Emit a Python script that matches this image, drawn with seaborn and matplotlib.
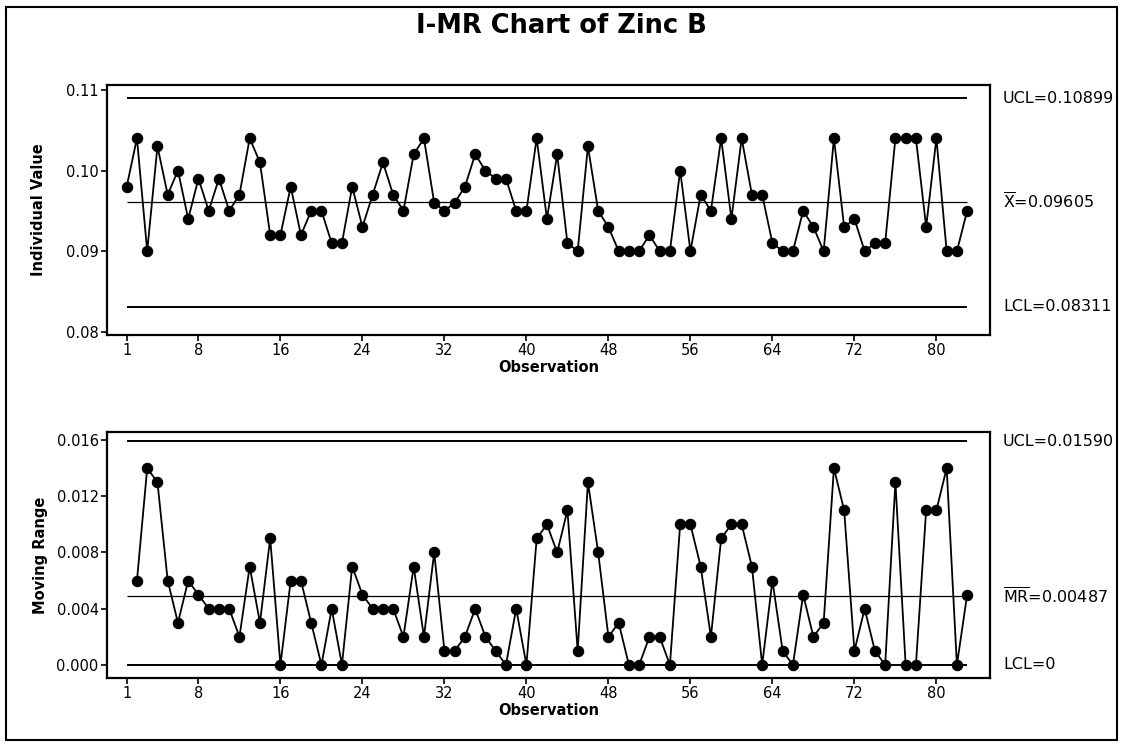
import matplotlib
matplotlib.use("Agg")
import matplotlib.pyplot as plt
import seaborn as sns
import numpy as np
import pandas as pd
from matplotlib.patches import Rectangle

# ---------------- data ----------------
observations = list(range(1, 84))
individual_values = [
    0.098, 0.104, 0.090, 0.103, 0.097, 0.100, 0.094, 0.099, 0.095, 0.099,
    0.095, 0.097, 0.104, 0.101, 0.092, 0.092, 0.098, 0.092, 0.095, 0.095,
    0.091, 0.091, 0.098, 0.093, 0.097, 0.101, 0.097, 0.095, 0.102, 0.104,
    0.096, 0.095, 0.096, 0.098, 0.102, 0.100, 0.099, 0.099, 0.095, 0.095,
    0.104, 0.094, 0.102, 0.091, 0.090, 0.103, 0.095, 0.093, 0.090, 0.090,
    0.090, 0.092, 0.090, 0.090, 0.100, 0.090, 0.097, 0.095, 0.104, 0.094,
    0.104, 0.097, 0.097, 0.091, 0.090, 0.090, 0.095, 0.093, 0.090, 0.104,
    0.093, 0.094, 0.090, 0.091, 0.091, 0.104, 0.104, 0.104, 0.093, 0.104,
    0.090, 0.090, 0.095,
]
mr_observations = list(range(2, 84))
moving_ranges = [
    0.006, 0.014, 0.013, 0.006, 0.003, 0.006, 0.005, 0.004, 0.004,
    0.004, 0.002, 0.007, 0.003, 0.009, 0.000, 0.006, 0.006, 0.003, 0.000,
    0.004, 0.000, 0.007, 0.005, 0.004, 0.004, 0.004, 0.002, 0.007, 0.002,
    0.008, 0.001, 0.001, 0.002, 0.004, 0.002, 0.001, 0.000, 0.004, 0.000,
    0.009, 0.010, 0.008, 0.011, 0.001, 0.013, 0.008, 0.002, 0.003, 0.000,
    0.000, 0.002, 0.002, 0.000, 0.010, 0.010, 0.007, 0.002, 0.009, 0.010,
    0.010, 0.007, 0.000, 0.006, 0.001, 0.000, 0.005, 0.002, 0.003, 0.014,
    0.011, 0.001, 0.004, 0.001, 0.000, 0.013, 0.000, 0.000, 0.011, 0.011,
    0.014, 0.000, 0.005,
]
i_ucl, i_center, i_lcl = 0.10899, 0.09605, 0.08311
mr_ucl, mr_center, mr_lcl = 0.01590, 0.00487, 0.0
x_ticks = [1, 8, 16, 24, 32, 40, 48, 56, 64, 72, 80]
i_yticks = [0.08, 0.09, 0.10, 0.11]
mr_yticks = [0.000, 0.004, 0.008, 0.012, 0.016]

title = "I-MR Chart of Zinc B"

# ---------------- style ----------------
sns.set_style("ticks")
plt.rcParams["font.family"] = ["DejaVu Sans"]
plt.rcParams["mathtext.fontset"] = "dejavusans"
plt.rcParams["text.color"] = "black"
plt.rcParams["axes.labelcolor"] = "black"
plt.rcParams["xtick.color"] = "black"
plt.rcParams["ytick.color"] = "black"

fig = plt.figure(figsize=(11.23, 7.44), dpi=100)
fig.patch.set_facecolor("white")

ax1 = fig.add_axes([0.0953, 0.5497, 0.786, 0.336])
ax2 = fig.add_axes([0.0953, 0.0887, 0.786, 0.3306])

df_i = pd.DataFrame({"Observation": observations, "Value": individual_values})
df_mr = pd.DataFrame({"Observation": mr_observations, "MR": moving_ranges})

line_kw = dict(color="black", linewidth=1.3, marker="o", markersize=7.5,
               markeredgecolor="black", markerfacecolor="black")

sns.lineplot(data=df_i, x="Observation", y="Value", ax=ax1, **line_kw)
sns.lineplot(data=df_mr, x="Observation", y="MR", ax=ax2, **line_kw)

x0, x1 = observations[0], observations[-1]

def control_lines(ax, ucl, cl, lcl):
    ax.hlines([ucl, lcl], x0, x1, colors="black", linewidth=1.4, zorder=1)
    ax.hlines([cl], x0, x1, colors="black", linewidth=0.9, zorder=1)

control_lines(ax1, i_ucl, i_center, i_lcl)
control_lines(ax2, mr_ucl, mr_center, mr_lcl)

for ax in (ax1, ax2):
    ax.set_xlim(-0.92, 85.2)
    ax.set_xticks(x_ticks)
    ax.set_xticklabels([str(t) for t in x_ticks], fontsize=10.5)
    ax.set_xlabel("Observation", fontsize=10.5, fontweight="bold", labelpad=1)
    for s in ax.spines.values():
        s.set_visible(True)
        s.set_linewidth(1.6)
        s.set_color("black")
    ax.tick_params(axis="both", direction="out", length=4, width=1.2,
                   colors="black", labelsize=10.5, pad=2)
    ax.tick_params(top=False, right=False)
    ax.grid(False)

ax1.set_ylim(0.0796, 0.1106)
ax1.set_yticks(i_yticks)
ax1.set_yticklabels([f"{v:.2f}" for v in i_yticks])
ax1.set_ylabel("Individual Value", fontsize=10.5, fontweight="bold", labelpad=14)

ax2.set_ylim(-0.00093, 0.01657)
ax2.set_yticks(mr_yticks)
ax2.set_yticklabels([f"{v:.3f}" for v in mr_yticks])
ax2.set_ylabel("Moving Range", fontsize=10.5, fontweight="bold", labelpad=6)

def right_label(ax, y, txt):
    ax.text(1.015, y, txt, transform=ax.get_yaxis_transform(),
            ha="left", va="center", fontsize=11.5, color="black")

right_label(ax1, i_ucl, f"UCL={i_ucl:.5f}")
right_label(ax1, i_center, r"$\overline{\mathrm{X}}$" + f"={i_center:.5f}")
right_label(ax1, i_lcl, f"LCL={i_lcl:.5f}")
right_label(ax2, mr_ucl, f"UCL={mr_ucl:.5f}")
right_label(ax2, mr_center, r"$\overline{\mathrm{MR}}$" + f"={mr_center:.5f}")
right_label(ax2, mr_lcl, "LCL=0")

fig.text(0.5, 0.965, title, ha="center", va="center", fontsize=18.5,
         fontweight="bold", color="black")

fig.patches.append(Rectangle((0.005, 0.005), 0.99, 0.985, transform=fig.transFigure,
                             fill=False, edgecolor="black", linewidth=1.5))

fig.savefig("out.png", dpi=100, facecolor="white")
